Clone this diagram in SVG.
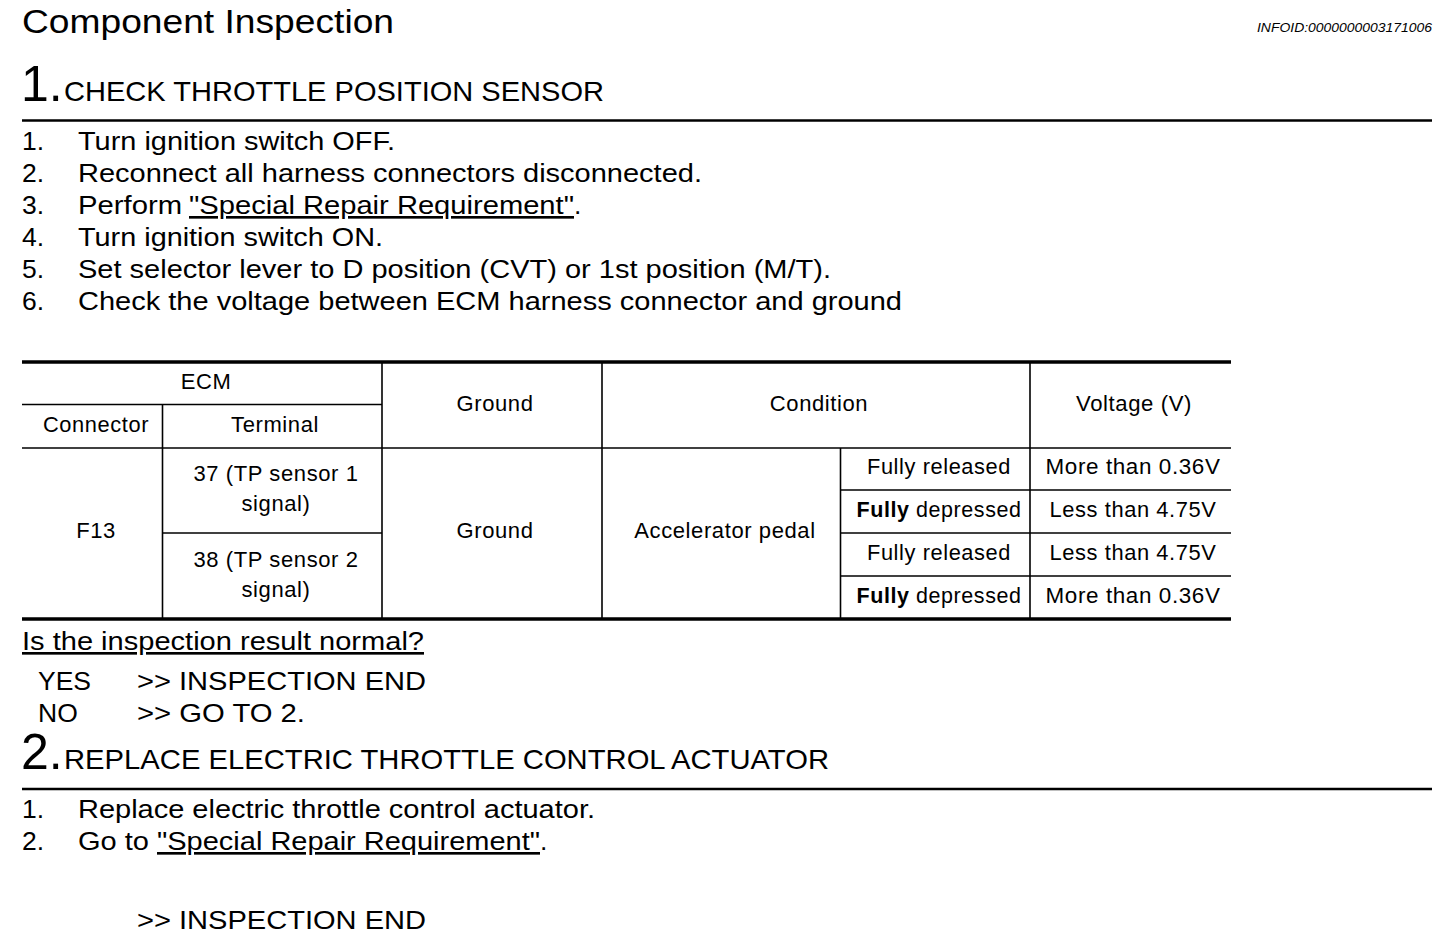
<svg xmlns="http://www.w3.org/2000/svg" width="1456" height="944" viewBox="0 0 1456 944">
<style>
text{font-family:"Liberation Sans",Arial,sans-serif;fill:#000}
.t{font-size:34px}
.big{font-size:50px}
.h{font-size:28px}
.s{font-size:26.5px}
.tb{font-size:22px;letter-spacing:0.6px}
.c{text-anchor:middle}
.id{font-size:12px;font-style:italic}
.u{text-decoration:underline}
.thick{stroke:#000;stroke-width:3.5;fill:none}
.rule{stroke:#000;stroke-width:2.5;fill:none}
.thin{stroke:#000;stroke-width:1.6;fill:none}
</style>
<rect width="1456" height="944" fill="#fff"/>
<g id="header">
<text class="t" x="22" y="33" textLength="372" lengthAdjust="spacingAndGlyphs">Component Inspection</text>
<text class="id" x="1257" y="32" textLength="175" lengthAdjust="spacingAndGlyphs">INFOID:0000000003171006</text>
</g>
<g id="step1">
<text class="big" x="21" y="101">1.</text>
<text class="h" x="64" y="101" textLength="540" lengthAdjust="spacingAndGlyphs">CHECK THROTTLE POSITION SENSOR</text>
<line class="rule" x1="22" y1="120.5" x2="1432" y2="120.5"/>
<text class="s" x="22" y="150">1.</text>
<text class="s" x="78" y="150" textLength="317" lengthAdjust="spacingAndGlyphs">Turn ignition switch OFF.</text>
<text class="s" x="22" y="182">2.</text>
<text class="s" x="78" y="182" textLength="624" lengthAdjust="spacingAndGlyphs">Reconnect all harness connectors disconnected.</text>
<text class="s" x="22" y="214">3.</text>
<text class="s" x="78" y="214" textLength="104" lengthAdjust="spacingAndGlyphs">Perform</text>
<text class="s u" x="189" y="214" textLength="385" lengthAdjust="spacingAndGlyphs">"Special Repair Requirement"</text>
<text class="s" x="574" y="214">.</text>
<text class="s" x="22" y="246">4.</text>
<text class="s" x="78" y="246" textLength="305" lengthAdjust="spacingAndGlyphs">Turn ignition switch ON.</text>
<text class="s" x="22" y="278">5.</text>
<text class="s" x="78" y="278" textLength="753" lengthAdjust="spacingAndGlyphs">Set selector lever to D position (CVT) or 1st position (M/T).</text>
<text class="s" x="22" y="310">6.</text>
<text class="s" x="78" y="310" textLength="824" lengthAdjust="spacingAndGlyphs">Check the voltage between ECM harness connector and ground</text>
</g>
<g id="table">
<line class="thick" x1="22" y1="362" x2="1231" y2="362"/>
<line class="thick" x1="22" y1="619" x2="1231" y2="619"/>
<line class="thin" x1="22" y1="404.5" x2="382" y2="404.5"/>
<line class="thin" x1="22" y1="448" x2="1231" y2="448"/>
<line class="thin" x1="162" y1="533" x2="382" y2="533"/>
<line class="thin" x1="840.5" y1="490" x2="1231" y2="490"/>
<line class="thin" x1="840.5" y1="533" x2="1231" y2="533"/>
<line class="thin" x1="840.5" y1="576" x2="1231" y2="576"/>
<line class="thin" x1="162.5" y1="404.5" x2="162.5" y2="619"/>
<line class="thin" x1="382" y1="362" x2="382" y2="619"/>
<line class="thin" x1="602" y1="362" x2="602" y2="619"/>
<line class="thin" x1="840.5" y1="448" x2="840.5" y2="619"/>
<line class="thin" x1="1030" y1="362" x2="1030" y2="619"/>
<text class="tb c" x="206" y="389">ECM</text>
<text class="tb c" x="96" y="432" textLength="106" lengthAdjust="spacingAndGlyphs">Connector</text>
<text class="tb c" x="275" y="432">Terminal</text>
<text class="tb c" x="495" y="411">Ground</text>
<text class="tb c" x="819" y="411">Condition</text>
<text class="tb c" x="1134" y="411" textLength="116" lengthAdjust="spacingAndGlyphs">Voltage (V)</text>
<text class="tb c" x="96" y="538">F13</text>
<text class="tb c" x="276" y="481">37 (TP sensor 1</text>
<text class="tb c" x="276" y="511">signal)</text>
<text class="tb c" x="276" y="567">38 (TP sensor 2</text>
<text class="tb c" x="276" y="597">signal)</text>
<text class="tb c" x="495" y="538">Ground</text>
<text class="tb c" x="725" y="538">Accelerator pedal</text>
<text class="tb c" x="939" y="474" textLength="144" lengthAdjust="spacingAndGlyphs">Fully released</text>
<text class="tb c" x="939" y="517" textLength="165" lengthAdjust="spacingAndGlyphs"><tspan font-weight="bold">Fully</tspan> depressed</text>
<text class="tb c" x="939" y="560" textLength="144" lengthAdjust="spacingAndGlyphs">Fully released</text>
<text class="tb c" x="939" y="603" textLength="165" lengthAdjust="spacingAndGlyphs"><tspan font-weight="bold">Fully</tspan> depressed</text>
<text class="tb c" x="1133" y="474" textLength="175" lengthAdjust="spacingAndGlyphs">More than 0.36V</text>
<text class="tb c" x="1133" y="517" textLength="167" lengthAdjust="spacingAndGlyphs">Less than 4.75V</text>
<text class="tb c" x="1133" y="560" textLength="167" lengthAdjust="spacingAndGlyphs">Less than 4.75V</text>
<text class="tb c" x="1133" y="603" textLength="175" lengthAdjust="spacingAndGlyphs">More than 0.36V</text>
</g>
<g id="result1">
<text class="s u" x="22" y="650" textLength="402" lengthAdjust="spacingAndGlyphs">Is the inspection result normal?</text>
<text class="s" x="38" y="690">YES</text>
<text class="s" x="137" y="690" textLength="289" lengthAdjust="spacingAndGlyphs">&gt;&gt; INSPECTION END</text>
<text class="s" x="38" y="722">NO</text>
<text class="s" x="137" y="722" textLength="168" lengthAdjust="spacingAndGlyphs">&gt;&gt; GO TO 2.</text>
</g>
<g id="step2">
<text class="big" x="21" y="769">2.</text>
<text class="h" x="64" y="769" textLength="765" lengthAdjust="spacingAndGlyphs">REPLACE ELECTRIC THROTTLE CONTROL ACTUATOR</text>
<line class="rule" x1="22" y1="789" x2="1432" y2="789"/>
<text class="s" x="22" y="818">1.</text>
<text class="s" x="78" y="818" textLength="517" lengthAdjust="spacingAndGlyphs">Replace electric throttle control actuator.</text>
<text class="s" x="22" y="850">2.</text>
<text class="s" x="78" y="850" textLength="71" lengthAdjust="spacingAndGlyphs">Go to</text>
<text class="s u" x="157" y="850" textLength="383" lengthAdjust="spacingAndGlyphs">"Special Repair Requirement"</text>
<text class="s" x="540" y="850">.</text>
<text class="s" x="137" y="929" textLength="289" lengthAdjust="spacingAndGlyphs">&gt;&gt; INSPECTION END</text>
</g>
</svg>
